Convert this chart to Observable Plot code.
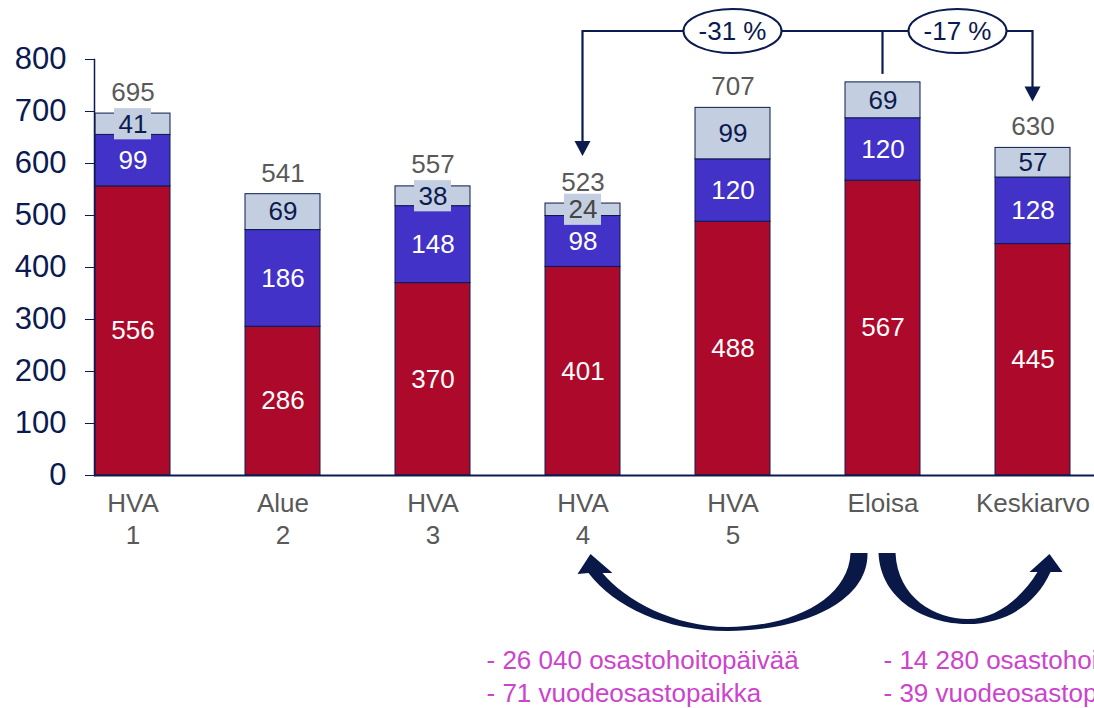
<!DOCTYPE html>
<html>
<head>
<meta charset="utf-8">
<script src="https://cdn.jsdelivr.net/npm/d3@7"></script>
<script src="https://cdn.jsdelivr.net/npm/@observablehq/plot@0.6"></script>
<style>
  html, body { margin: 0; padding: 0; background: #fff; overflow: hidden; }
  svg { overflow: hidden; display: block; }
</style>
</head>
<body>
<div id="chart"></div>
<script>
// ---- data ----
const categories = ["HVA 1", "Alue 2", "HVA 3", "HVA 4", "HVA 5", "Eloisa", "Keskiarvo"];
const categoryLabels = ["HVA\n1", "Alue\n2", "HVA\n3", "HVA\n4", "HVA\n5", "Eloisa", "Keskiarvo"];
const seriesNames = ["Osa 1", "Osa 2", "Osa 3"];
const bottomValues = [556, 286, 370, 401, 488, 567, 445];
const middleValues = [99, 186, 148, 98, 120, 120, 128];
const topValues = [41, 69, 38, 24, 99, 69, 57];
const totalLabels = [695, 541, 557, 523, 707, null, 630];
const yTicks = [0, 100, 200, 300, 400, 500, 600, 700, 800];
const savingsLeft = ["- 26 040 osastohoitopäivää", "- 71 vuodeosastopaikka"];
const savingsRight = ["- 14 280 osastohoitopäivää", "- 39 vuodeosastopaikka"];
const changeLabels = ["-31 %", "-17 %"];

// ---- styles ----
const navy = "#0B1A4F";
const seriesColors = ["#AD0A2B", "#4232C8", "#C3CEE0"];
const grey = "#595959";
const magenta = "#CC44CC";

// ---- table ----
const valueSets = [bottomValues, middleValues, topValues];
const rows = [];
categories.forEach((cat, i) => {
  let acc = 0;
  valueSets.forEach((vals, s) => {
    const v = vals[i];
    rows.push({cat, series: seriesNames[s], value: v, y1: acc, y2: acc + v, mid: acc + v / 2});
    acc += v;
  });
});
const totals = categories.map((cat, i) => ({cat, total: totalLabels[i]})).filter(d => d.total != null);
const labelMap = new Map(categories.map((c, i) => [c, categoryLabels[i]]));
const smallTop = rows.filter(d => d.series === seriesNames[2] && d.value < 50);

const plot = Plot.plot({
  width: 1094,
  height: 708,
  marginLeft: 94,
  marginRight: 0,
  marginTop: 59,
  marginBottom: 233,
  style: {fontFamily: "'Liberation Sans', Arial, sans-serif", background: "white"},
  x: {domain: categories, range: [57, 1107], paddingInner: 0.5, paddingOuter: 0.25, axis: null},
  y: {domain: [0, 800], axis: null},
  color: {domain: seriesNames, range: seriesColors},
  marks: [
    Plot.barY(rows, {x: "cat", y1: "y1", y2: "y2", fill: "series", stroke: navy, strokeWidth: 1}),
    Plot.barY(smallTop, {x: "cat", y1: d => d.mid - 30, y2: d => d.mid + 30, fill: seriesColors[2], insetLeft: 19, insetRight: 19}),
    Plot.text(rows, {
      x: "cat", y: "mid", text: "value", fontSize: 26,
      fill: d => d.series === seriesNames[2] ? (d.cat === "HVA 4" ? "#454545" : navy) : "white"
    }),
    Plot.text(totals, {x: "cat", y: "total", text: "total", dy: -21, fontSize: 26, fill: grey}),
    Plot.ruleY([0], {stroke: navy, strokeWidth: 2}),
    Plot.frame({anchor: "left", stroke: navy, strokeWidth: 1.5}),
    Plot.axisY({ticks: yTicks, tickSize: 9, tickPadding: 19, fontSize: 31, color: navy, label: null, tickFormat: d => String(d)}),
    Plot.axisX({tickSize: 0, tickPadding: 13, fontSize: 26, color: grey, lineHeight: 1.25, label: null, tickFormat: d => labelMap.get(d)})
  ]
});

document.getElementById("chart").appendChild(plot);

// ---- annotations ----
const xs = plot.scale("x");
const ys = plot.scale("y");
const cx = c => xs.apply(c) + xs.bandwidth / 2;
const svg = d3.select(plot);
const g = svg.append("g").attr("class", "annotations");

const x4 = cx("HVA 4"), xE = cx("Eloisa"), xK = cx("Keskiarvo");
const bracketY = 31;
const tip4 = ys.apply(523) - 47;
const tipK = ys.apply(630) - 46;
const topE = ys.apply(567 + 120 + 69) - 8;

g.append("path")
  .attr("d", `M${x4},${tip4 - 12} L${x4},${bracketY} L${xK},${bracketY} L${xK},${tipK - 12}`)
  .attr("fill", "none").attr("stroke", navy).attr("stroke-width", 2.2);
g.append("path")
  .attr("d", `M${xE},${bracketY} L${xE},${topE}`)
  .attr("fill", "none").attr("stroke", navy).attr("stroke-width", 2.2);
[[x4, tip4], [xK, tipK]].forEach(([x, y]) => {
  g.append("path")
    .attr("d", `M${x - 8},${y - 15} L${x + 8},${y - 15} L${x},${y} Z`)
    .attr("fill", navy);
});
[[(x4 + xE) / 2, changeLabels[0]], [(xE + xK) / 2, changeLabels[1]]].forEach(([x, t]) => {
  g.append("ellipse").attr("cx", x).attr("cy", bracketY).attr("rx", 49).attr("ry", 22)
    .attr("fill", "white").attr("stroke", navy).attr("stroke-width", 2);
  g.append("text").attr("x", x).attr("y", bracketY).attr("dy", "0.35em")
    .attr("text-anchor", "middle").attr("font-size", 26).attr("fill", navy).text(t);
});

// curved arrows
const e = xE;
g.append("path")
  .attr("d", `M${e - 15},553 C${e - 14},603 ${e - 82},631 ${e - 155},631 C${e - 217},631 ${e - 268},607 ${e - 294},573
              L${e - 305},574 L${e - 292},554 L${e - 270},573 L${e - 280},573
              C${e - 258},600 ${e - 208},627 ${e - 155},627 C${e - 92},627 ${e - 34},600 ${e - 32},553 Z`)
  .attr("fill", "#0A1848");
g.append("path")
  .attr("d", `M${e - 4},553 C${e - 2},600 ${e + 43},624 ${e + 85},624 C${e + 123},624 ${e + 153},605 ${e + 168},572
              L${e + 180},572 L${e + 167},554 L${e + 147},572 L${e + 155},572
              C${e + 139},598 ${e + 114},619 ${e + 85},619 C${e + 53},619 ${e + 15},598 ${e + 13},553 Z`)
  .attr("fill", "#0A1848");

// savings texts
[[x4 - 96, savingsLeft], [xE + 1, savingsRight]].forEach(([x, lines]) => {
  lines.forEach((t, i) => {
    g.append("text").attr("x", x).attr("y", 669 + i * 33)
      .attr("text-anchor", "start")
      .attr("font-size", 26).attr("fill", magenta).text(t);
  });
});
</script>
</body>
</html>
